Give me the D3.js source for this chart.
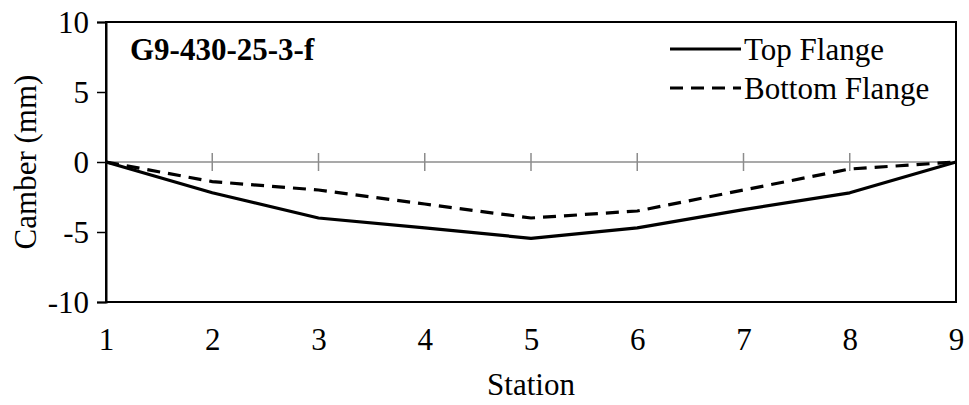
<!DOCTYPE html>
<html>
<head>
<meta charset="utf-8">
<script src="https://cdn.jsdelivr.net/npm/d3@7"></script>
</head>
<body style="margin:0;background:#fff">
<svg id="chart" width="969" height="405" font-family="Liberation Serif" style="display:block"></svg>
<script>
// Camber profile along the girder, measured at nine stations
const stations = [1, 2, 3, 4, 5, 6, 7, 8, 9];
const topFlange = [0, -2.2, -4.0, -4.7, -5.45, -4.7, -3.4, -2.2, 0];
const bottomFlange = [0, -1.4, -2.0, -3.0, -4.0, -3.5, -2.0, -0.5, 0];
const yTicks = [-10, -5, 0, 5, 10];
const seriesNames = ["Top Flange", "Bottom Flange"];
const chartTitle = "G9-430-25-3-f";

const svg = d3.select("#chart");
const m = { left: 106, right: 13, top: 22, bottom: 103 };
const W = 969, H = 405;
const x = d3.scaleLinear().domain([1, 9]).range([m.left, W - m.right]);
const y = d3.scaleLinear().domain([-10, 10]).range([H - m.bottom, m.top]);

const fmt = d => String(d); // plain hyphen for negatives
const serifFont = sel => sel
  .attr("font-family", "Liberation Serif").attr("font-size", 31)
  .style("font-family", "'Liberation Serif', 'Times New Roman', serif").style("font-size", "31px");
const serif = sel => sel.call(serifFont).attr("fill", "#000");

// zero line with station ticks crossing it
svg.append("line")
  .attr("x1", x(1)).attr("x2", x(9)).attr("y1", y(0)).attr("y2", y(0))
  .attr("stroke", "#8c8c8c").attr("stroke-width", 1.5);
svg.append("g").selectAll("line").data(stations.slice(1, -1)).join("line")
  .attr("x1", d => x(d)).attr("x2", d => x(d))
  .attr("y1", y(0) - 9).attr("y2", y(0) + 9)
  .attr("stroke", "#8c8c8c").attr("stroke-width", 1.5);

// frame
svg.append("rect")
  .attr("x", x(1)).attr("y", y(10))
  .attr("width", x(9) - x(1)).attr("height", y(-10) - y(10))
  .attr("fill", "none").attr("stroke", "#000").attr("stroke-width", 2);

// y axis
const yAxis = d3.axisLeft(y).tickValues(yTicks).tickSize(9).tickPadding(8).tickFormat(fmt);
const gy = svg.append("g").attr("transform", `translate(${x(1)},0)`).call(yAxis).call(serifFont);
gy.select(".domain").attr("stroke", "#000").attr("stroke-width", 2).attr("fill", "none");
gy.selectAll(".tick line").attr("stroke", "#000").attr("stroke-width", 1.5);
gy.selectAll(".tick text").call(serif).attr("dy", "0.35em");

// x axis labels
const xAxis = d3.axisBottom(x).tickValues(stations).tickSize(0).tickPadding(48).tickFormat(fmt);
const gx = svg.append("g").attr("transform", `translate(0,${y(-10)})`).call(xAxis).call(serifFont);
gx.select(".domain").remove();
gx.selectAll(".tick text").call(serif).attr("dy", "0");

// axis titles
svg.append("text").attr("x", (x(1) + x(9)) / 2).attr("y", 395)
  .attr("text-anchor", "middle").call(serif).text("Station");
svg.append("text")
  .attr("transform", `translate(36,${y(0)}) rotate(-90)`)
  .attr("text-anchor", "middle").call(serif).text("Camber (mm)");

// series
const line = d3.line().x((d, i) => x(stations[i])).y(d => y(d));
svg.append("path").datum(topFlange).attr("d", line)
  .attr("fill", "none").attr("stroke", "#000").attr("stroke-width", 3.2)
  .attr("stroke-linejoin", "round");
svg.append("path").datum(bottomFlange).attr("d", line)
  .attr("fill", "none").attr("stroke", "#000").attr("stroke-width", 3.2)
  .attr("stroke-dasharray", "13,8");

// chart title
svg.append("text").attr("x", 130).attr("y", 60)
  .call(serif).attr("font-weight", "bold").style("font-weight", "bold").text(chartTitle);

// legend
const legend = svg.append("g");
const items = [{ name: seriesNames[0], dash: null, yy: 49 }, { name: seriesNames[1], dash: "13,8", yy: 88 }];
items.forEach(it => {
  legend.append("line").attr("x1", 670).attr("x2", 741).attr("y1", it.yy).attr("y2", it.yy)
    .attr("stroke", "#000").attr("stroke-width", 3.2)
    .attr("stroke-dasharray", it.dash);
  legend.append("text").attr("x", 744).attr("y", it.yy).attr("dy", "0.35em")
    .call(serif).text(it.name);
});
</script>
</body>
</html>
